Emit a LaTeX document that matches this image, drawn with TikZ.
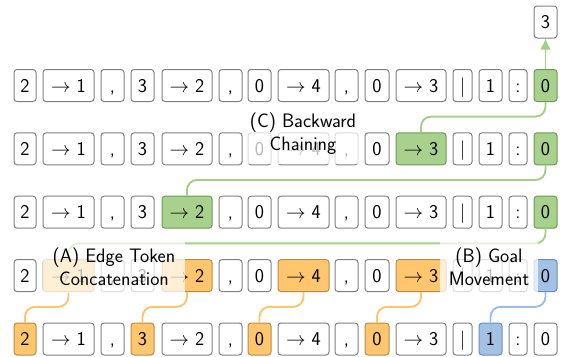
\RequirePackage{fix-cm}
\documentclass[tikz,border=0pt]{standalone}
\usepackage{fontspec}
\usetikzlibrary{arrows.meta}
\definecolor{bordergray}{HTML}{808080}
\definecolor{orfill}{HTML}{FFC66D}
\definecolor{ordraw}{HTML}{B98C45}
\definecolor{orline}{HTML}{FFC46E}
\definecolor{grfill}{HTML}{A9D18E}
\definecolor{grdraw}{HTML}{6F9A52}
\definecolor{grline}{HTML}{A5CF89}
\definecolor{blfill}{HTML}{A3C1E5}
\definecolor{bldraw}{HTML}{6C8DB8}
\definecolor{blline}{HTML}{9DBDE4}
\newcommand\tokfont{\fontsize{19.5}{23}\selectfont\sffamily}
\begin{document}
\begin{tikzpicture}[x=1pt,y=-1pt,
  tok/.style={draw=bordergray, line width=1pt, rounded corners=3pt, minimum height=32pt,
    inner sep=0pt, fill=white, font=\tokfont, text height=13.5pt, text depth=0pt},
  orangetok/.style={fill=orfill, draw=ordraw},
  greentok/.style={fill=grfill, draw=grdraw},
  bluetok/.style={fill=blfill, draw=bldraw},
  s1-15/.style=greentok, s2-11/.style=greentok, s2-15/.style=greentok,
  s3-5/.style=greentok, s3-15/.style=greentok,
  s4-2/.style=orangetok, s4-5/.style=orangetok, s4-8/.style=orangetok,
  s4-11/.style=orangetok, s4-15/.style=bluetok,
  s5-1/.style=orangetok, s5-4/.style=orangetok, s5-7/.style=orangetok,
  s5-10/.style=orangetok, s5-13/.style=bluetok,
  conn/.style={line width=1.9pt, rounded corners=10pt},
  oconn/.style={conn, draw=orline},
  gconn/.style={conn, draw=grline},
  bconn/.style={conn, draw=blline},
  lbl/.style={fill=white, fill opacity=0.72, text opacity=1, align=center,
    font=\tokfont, inner sep=0pt}
]
\useasboundingbox (0,0) rectangle (562,356);
\foreach \r/\yy in {1/85.5,2/148.8,3/212.2,4/275.6,5/339}{
  \foreach \i/\xx/\w/\t in {1/25/22/2, 2/68.5/51/{$\rightarrow$ 1}, 3/112.5/23/{,},
      4/142.5/23/3, 5/187/50/{$\rightarrow$ 2}, 6/230.5/23/{,}, 7/259.5/23/0,
      8/303.5/51/{$\rightarrow$ 4}, 9/346.5/23/{,}, 10/377/24/0,
      11/421/50/{$\rightarrow$ 3}, 12/462.5/19/{$|$}, 13/490.5/23/1,
      14/518/18/{:}, 15/545.5/23/0}{
    \node[tok, minimum width=\w, s\r-\i/.try] (r\r-\i) at (\xx,\yy) {\t};
  }
}
\node[tok, minimum width=23] (top) at (545.5,22) {3};
% connectors
\foreach \a/\b in {1/2,4/5,7/8,10/11}{
  \draw[oconn] (r5-\a.north) -- ++(0,-15.7) -| (r4-\b.south);
}
\draw[bconn] (r5-13.north) -- ++(0,-15.7) -| (r4-15.south);
\draw[gconn] (r4-2.north) -- ++(0,-15.7) -| (r3-15.south);
\draw[gconn] (r3-5.north) -- ++(0,-15.7) -| (r2-15.south);
\draw[gconn] (r2-11.north) -- ++(0,-15.7) -| (r1-15.south);
\draw[gconn, -{Latex[length=11pt,width=11pt]}] (r1-15.north) -- (top.south);
% labels
\node[lbl, minimum width=142, minimum height=53] (la) at (114,266.5) {(A) Edge Token\\Concatenation};
\node[lbl, minimum width=98, minimum height=53] (lb) at (489,266.5) {(B) Goal\\Movement};
\node[lbl, minimum width=120, minimum height=60] (lc) at (303,134) {(C) Backward\\Chaining};
\end{tikzpicture}
\end{document}
